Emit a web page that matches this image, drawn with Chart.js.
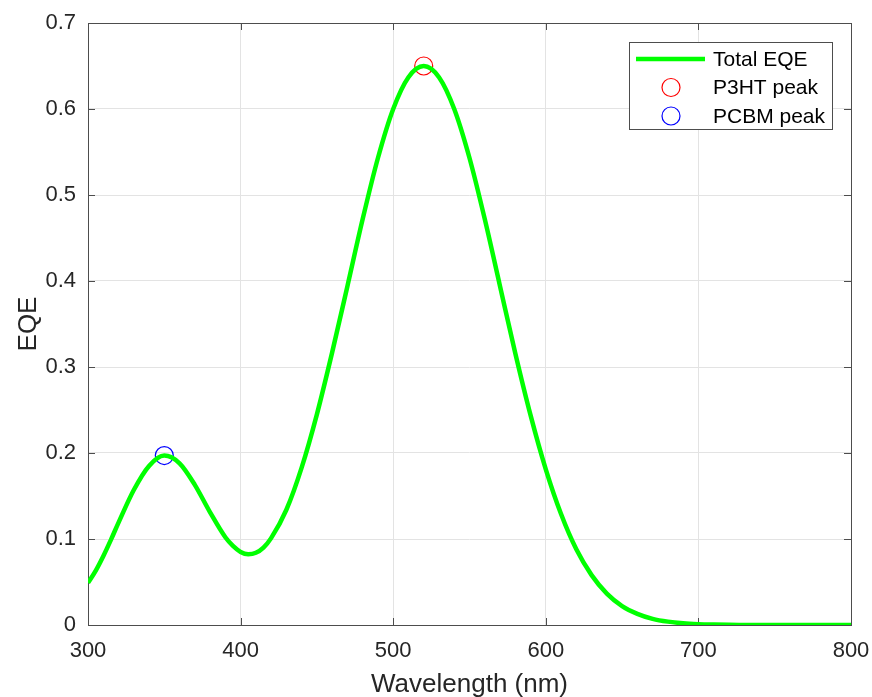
<!DOCTYPE html>
<html>
<head>
<meta charset="utf-8">
<title>EQE spectrum</title>
<script src="https://cdn.jsdelivr.net/npm/chart.js@4"></script>
<style>
  html, body { margin: 0; padding: 0; background: #fff; }
  #wrap { width: 872px; height: 697px; }
</style>
</head>
<body>
<div id="wrap"><canvas id="eqeChart" width="872" height="697"></canvas></div>
<script>
// wavelength grid (nm) and EQE
const wavelengths = [300, 305, 310, 315, 320, 330, 340, 350, 360, 370, 380, 390,
                     395, 400, 405, 410, 415, 420, 430, 440, 450, 460,
                     470, 480, 490, 500, 510, 520, 530, 540, 550, 560,
                     570, 580, 590, 600, 610, 620, 630, 640, 650, 660,
                     670, 680, 690, 700, 710, 720, 730, 740, 760, 780, 800];
const totalEqe = [0.049, 0.063, 0.080, 0.099, 0.119, 0.157, 0.185, 0.197, 0.188, 0.163, 0.131, 0.102,
                  0.092, 0.085, 0.0824, 0.084, 0.090, 0.101, 0.134, 0.183, 0.245, 0.317,
                  0.394, 0.472, 0.543, 0.600, 0.637, 0.650, 0.637, 0.600, 0.543, 0.472,
                  0.394, 0.316, 0.244, 0.181, 0.129, 0.088, 0.058, 0.0365, 0.022, 0.013,
                  0.0072, 0.0039, 0.002, 0.001, 0.0005, 0.0002, 0.0001, 0, 0, 0, 0];

const p3htPeak = [520, 0.650];
const pcbmPeak = [350, 0.197];

const xTicks = [300, 400, 500, 600, 700, 800];
const yTicks = [0, 0.1, 0.2, 0.3, 0.4, 0.5, 0.6, 0.7];

const legendItems = ['Total EQE', 'P3HT peak', 'PCBM peak'];

const axisColor = '#262626';
const FONT = '"Liberation Sans", Arial, Helvetica, sans-serif';

// box around the axes with inward ticks (MATLAB look)
const boxPlugin = {
    id: 'boxAxes',
    beforeDatasetsDraw(chart) {
        const {ctx, chartArea: a, scales} = chart;
        ctx.save();
        ctx.strokeStyle = '#4d4d4d';
        ctx.lineWidth = 1;
        ctx.strokeRect(Math.round(a.left) + 0.5, Math.round(a.top) + 0.5,
                       Math.round(a.right - a.left), Math.round(a.bottom - a.top));
        const len = 7;
        ctx.beginPath();
        xTicks.forEach(v => {
            const x = Math.round(scales.x.getPixelForValue(v)) + 0.5;
            ctx.moveTo(x, a.bottom); ctx.lineTo(x, a.bottom - len);
            ctx.moveTo(x, a.top); ctx.lineTo(x, a.top + len);
        });
        yTicks.forEach(v => {
            const y = Math.round(scales.y.getPixelForValue(v)) + 0.5;
            ctx.moveTo(a.left, y); ctx.lineTo(a.left + len, y);
            ctx.moveTo(a.right, y); ctx.lineTo(a.right - len, y);
        });
        ctx.stroke();
        ctx.restore();
    }
};

// legend box in the upper right corner of the plot
const legendPlugin = {
    id: 'insideLegend',
    afterDraw(chart) {
        const {ctx, chartArea: a} = chart;
        const w = 203, h = 87;
        const x0 = a.right - 19 - w, y0 = a.top + 19;
        ctx.save();
        ctx.fillStyle = '#fff';
        ctx.fillRect(x0, y0, w, h);
        ctx.strokeStyle = '#4d4d4d';
        ctx.lineWidth = 1;
        ctx.strokeRect(Math.round(x0) + 0.5, Math.round(y0) + 0.5, w, h);

        const rows = [y0 + 17, y0 + 45.5, y0 + 74];
        // line sample
        ctx.strokeStyle = '#00ff00';
        ctx.lineWidth = 4.5;
        ctx.beginPath();
        ctx.moveTo(x0 + 7, rows[0]); ctx.lineTo(x0 + 76, rows[0]);
        ctx.stroke();
        // marker samples
        ctx.lineWidth = 1.2;
        ctx.strokeStyle = '#ff0000';
        ctx.beginPath(); ctx.arc(x0 + 42, rows[1], 9, 0, Math.PI * 2); ctx.stroke();
        ctx.strokeStyle = '#0000ff';
        ctx.beginPath(); ctx.arc(x0 + 42, rows[2], 9, 0, Math.PI * 2); ctx.stroke();

        ctx.fillStyle = '#000';
        ctx.font = '21px ' + FONT;
        ctx.textBaseline = 'middle';
        legendItems.forEach((t, i) => ctx.fillText(t, x0 + 84, rows[i] + 1));
        ctx.restore();
    }
};

const ctx = document.getElementById('eqeChart');
new Chart(ctx, {
    type: 'line',
    data: {
        datasets: [{
            label: legendItems[0],
            data: wavelengths.map((w, i) => ({x: w, y: totalEqe[i]})),
            borderColor: '#00ff00',
            borderWidth: 4.5,
            pointRadius: 0,
            fill: false,
            cubicInterpolationMode: 'monotone'
        }, {
            label: legendItems[1],
            type: 'scatter',
            data: [{x: p3htPeak[0], y: p3htPeak[1]}],
            borderColor: '#ff0000',
            backgroundColor: 'rgba(0,0,0,0)',
            borderWidth: 1.2,
            pointRadius: 9
        }, {
            label: legendItems[2],
            type: 'scatter',
            data: [{x: pcbmPeak[0], y: pcbmPeak[1]}],
            borderColor: '#0000ff',
            backgroundColor: 'rgba(0,0,0,0)',
            borderWidth: 1.2,
            pointRadius: 9
        }]
    },
    options: {
        responsive: false,
        animation: false,
        events: [],
        layout: { padding: { top: 23, right: 21, left: 0, bottom: 0 } },
        scales: {
            x: {
                type: 'linear',
                min: 300,
                max: 800,
                afterBuildTicks: s => { s.ticks = xTicks.map(v => ({value: v})); },
                afterFit: s => { s.height = 72; s.paddingLeft = 0; s.paddingRight = 0; },
                grid: { color: '#e3e3e3', drawTicks: false },
                border: { display: false },
                ticks: {
                    color: axisColor,
                    padding: 13,
                    maxRotation: 0,
                    font: { size: 22, family: FONT }
                },
                title: {
                    display: true,
                    text: 'Wavelength (nm)',
                    color: axisColor,
                    padding: { top: 0, bottom: -3 },
                    font: { size: 26, family: FONT }
                }
            },
            y: {
                min: 0,
                max: 0.7,
                afterBuildTicks: s => { s.ticks = yTicks.map(v => ({value: v})); },
                afterFit: s => { s.width = 88; s.paddingTop = 0; s.paddingBottom = 0; },
                grid: { color: '#e3e3e3', drawTicks: false },
                border: { display: false },
                ticks: {
                    color: axisColor,
                    padding: 12,
                    font: { size: 22, family: FONT },
                    callback: v => String(+v.toFixed(1))
                },
                title: {
                    display: true,
                    text: 'EQE',
                    color: axisColor,
                    padding: { top: 13, bottom: 0 },
                    font: { size: 26, family: FONT }
                }
            }
        },
        plugins: {
            legend: { display: false },
            tooltip: { enabled: false }
        }
    },
    plugins: [boxPlugin, legendPlugin]
});
</script>
</body>
</html>
